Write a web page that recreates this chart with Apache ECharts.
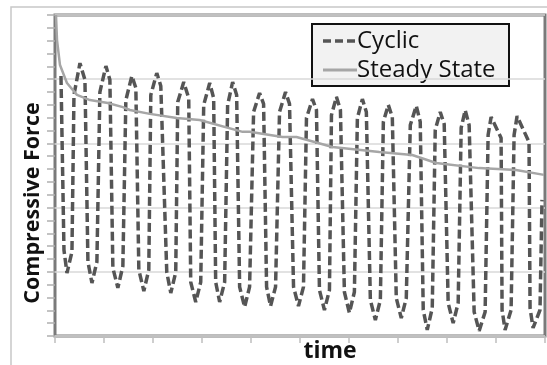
<!DOCTYPE html>
<html>
<head>
<meta charset="utf-8">
<script src="https://cdn.jsdelivr.net/npm/echarts@6/dist/echarts.min.js"></script>
<style>
html,body{margin:0;padding:0;background:#fff;}
#chart{width:547px;height:365px;}
</style>
</head>
<body>
<div id="chart"></div>
<script>
// Values (time 0..100, force 0..100 of the plotted range)
var cyclicX = [1.22, 1.83, 2.44, 3.46, 3.87, 5.09, 6.11, 6.72, 7.54, 8.55, 9.16, 10.39, 11.20, 11.81,
  12.83, 13.85, 14.46, 15.68, 16.50, 17.11, 18.13, 19.14, 19.55, 20.77, 21.59, 22.81, 23.63, 24.64,
  25.05, 26.27, 27.29, 27.70, 28.72, 29.74, 30.35, 31.57, 32.38, 32.79, 33.60, 34.62, 35.23, 36.25,
  37.07, 37.68, 38.70, 39.71, 40.53, 41.75, 42.57, 43.18, 43.99, 45.01, 45.82, 47.05, 47.86, 48.68,
  49.69, 50.71, 51.32, 52.55, 53.36, 53.97, 54.99, 56.01, 56.42, 57.43, 58.25, 59.06, 60.08, 61.10,
  61.71, 62.73, 63.54, 64.36, 65.38, 66.40, 67.01, 68.02, 68.84, 69.65, 70.67, 71.69, 72.51, 73.73,
  74.54, 75.15, 75.97, 76.99, 77.60, 78.62, 79.43, 80.24, 81.26, 82.28, 82.89, 83.71, 84.52, 85.54,
  86.56, 87.78, 88.39, 89.00, 91.04, 91.24, 91.85, 93.08, 93.69, 94.30, 96.74, 96.95, 97.56, 98.98, 99.39];
var cyclicY = [81.0, 26.8, 19.6, 26.2, 75.1, 85.0, 79.8, 23.1, 16.5, 23.1, 76.0, 84.1, 79.8, 21.2,
  15.0, 21.8, 73.5, 81.0, 77.3, 20.6, 14.0, 20.6, 75.1, 81.9, 77.9, 19.9, 13.4, 19.9,
  72.9, 79.1, 74.1, 16.8, 10.6, 16.8, 72.0, 78.8, 74.1, 16.8, 10.6, 16.8, 72.0, 79.1,
  75.1, 15.3, 9.0, 15.3, 69.8, 75.7, 72.3, 15.3, 9.3, 15.3, 69.8, 76.0, 72.3, 15.3,
  9.3, 15.3, 67.9, 73.8, 70.4, 14.3, 8.1, 14.3, 68.8, 74.5, 70.4, 13.7, 7.2, 13.7,
  67.9, 73.8, 69.8, 11.2, 5.0, 11.2, 66.7, 72.0, 68.2, 11.8, 5.6, 11.8, 65.7, 71.7,
  66.7, 8.1, 1.9, 8.7, 64.2, 69.8, 66.0, 10.3, 4.0, 10.3, 64.8, 70.4, 65.7, 7.5,
  1.6, 7.5, 62.6, 68.2, 61.7, 8.1, 1.9, 8.1, 62.6, 68.5, 60.4, 8.7, 2.5, 8.1, 42.4];
var steadyX = [0.2, 0.41, 1.02, 2.44, 4.48, 7.13, 10.79, 13.85, 15.27, 19.35, 24.85, 29.53,
  38.29, 39.71, 46.44, 49.29, 56.62, 66.19, 72.91, 77.80, 86.56, 94.09, 99.8];
var steadyY = [100, 92.2, 84.4, 78.8, 75.1, 73.5, 72.6, 71.3, 70.4, 69.2, 67.9, 67.3,
  63.6, 63.6, 62.0, 62.0, 58.9, 57.3, 56.4, 53.9, 52.3, 51.7, 50.2];
var seriesNames = ['Cyclic', 'Steady State'];
var xAxisName = 'time';
var yAxisName = 'Compressive Force';

function pairs(xs, ys){ return xs.map(function(x,i){ return [x, ys[i]]; }); }

var CYC_COLOR = '#555555', STEADY_COLOR = '#a6a6a6';
var FONT = '"Open Sans", "Noto Sans", sans-serif';
var chart = echarts.init(document.getElementById('chart'), null, {renderer:'canvas'});
chart.setOption({
  animation: false,
  backgroundColor: '#ffffff',
  grid: {left: 55, right: 2, top: 15, bottom: 29, show: true, borderColor: '#7a7a7a', borderWidth: 3, backgroundColor: 'transparent'},
  xAxis: {
    type: 'value', min: 0, max: 100, interval: 10,
    axisLine: {show: false},
    axisTick: {show: true, length: 7, lineStyle: {color: '#bfbfbf', width: 1.5}},
    axisLabel: {show: false},
    splitLine: {show: false}
  },
  yAxis: {
    type: 'value', min: 0, max: 100, interval: 20,
    axisLine: {show: false},
    axisTick: {show: true, length: 8, lineStyle: {color: '#b0b0b0', width: 1.5}},
    minorTick: {show: true, splitNumber: 5, length: 8, lineStyle: {color: '#b0b0b0', width: 1.5}},
    axisLabel: {show: false},
    splitLine: {show: true, lineStyle: {color: '#d9d9d9', width: 1.5}}
  },
  graphic: [
    {type: 'rect', shape: {x: 11, y: 7, width: 600, height: 400}, style: {fill: 'none', stroke: '#c8c8c8', lineWidth: 1.5}, silent: true, z: -1},
    {type: 'text', x: 33, y: 203, rotation: Math.PI/2,
      style: {text: yAxisName, fontFamily: FONT, fontWeight: 'bold', fontSize: 21.5, fill: '#111', textAlign: 'center', textVerticalAlign: 'middle'}},
    {type: 'text', x: 330, y: 351,
      style: {text: xAxisName, fontFamily: FONT, fontWeight: 'bold', fontSize: 23, fill: '#111', textAlign: 'center', textVerticalAlign: 'middle'}},
    // legend box
    {type: 'group', z: 100, children: [
      {type: 'rect', shape: {x: 312, y: 24, width: 197, height: 62}, style: {fill: '#f2f2f2', stroke: '#111', lineWidth: 2}},
      {type: 'line', shape: {x1: 323, y1: 41, x2: 357, y2: 41}, style: {stroke: CYC_COLOR, lineWidth: 3.5, lineDash: [8, 4]}},
      {type: 'line', shape: {x1: 323, y1: 70, x2: 357, y2: 70}, style: {stroke: STEADY_COLOR, lineWidth: 3}},
      {type: 'text', x: 357, y: 41, style: {text: seriesNames[0], fontFamily: FONT, fontSize: 24, fill: '#111', textAlign: 'left', textVerticalAlign: 'middle'}},
      {type: 'text', x: 357, y: 70, style: {text: seriesNames[1], fontFamily: FONT, fontSize: 24, fill: '#111', textAlign: 'left', textVerticalAlign: 'middle'}}
    ]}
  ],
  series: [
    {name: seriesNames[0], type: 'line', data: pairs(cyclicX, cyclicY), symbol: 'none',
      lineStyle: {color: CYC_COLOR, width: 3.5, type: [9, 4]}},
    {name: seriesNames[1], type: 'line', data: pairs(steadyX, steadyY), symbol: 'none',
      lineStyle: {color: STEADY_COLOR, width: 2.5}}
  ]
});
</script>
</body>
</html>
